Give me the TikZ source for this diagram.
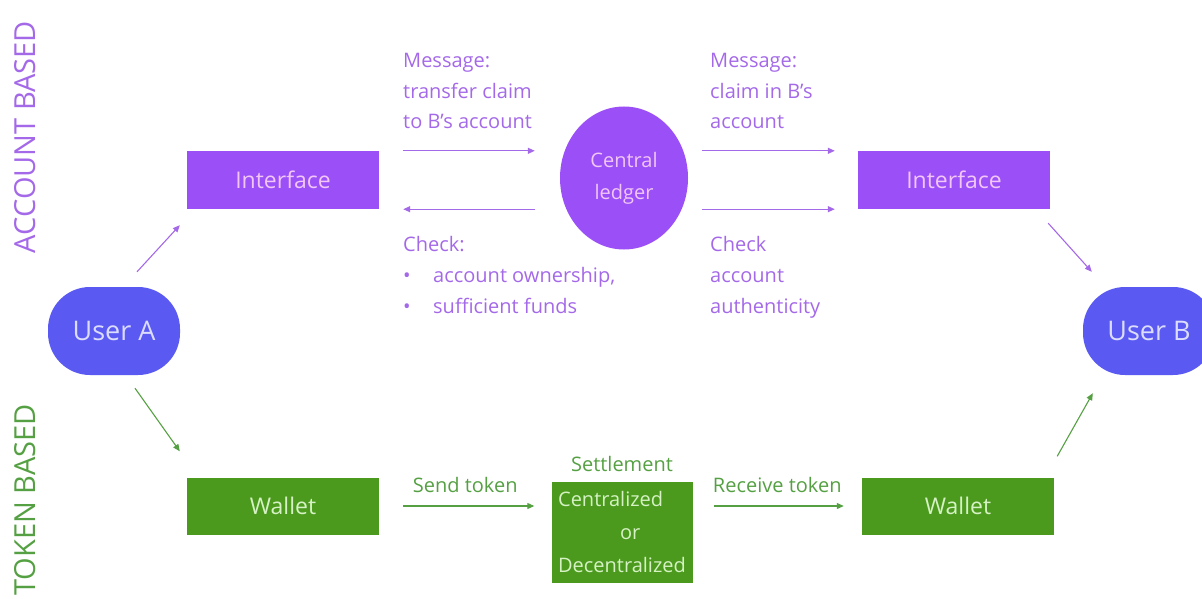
\documentclass[tikz,border=0pt]{standalone}
\usepackage{fontspec}
\setmainfont{Open Sans}
\usetikzlibrary{arrows.meta,positioning,shapes.geometric}

\definecolor{acctpurple}{HTML}{9B4FF7}
\definecolor{userblue}{HTML}{5A5AF2}
\definecolor{tokgreen}{HTML}{4B9A1E}
\definecolor{lblpurple}{HTML}{A469E8}
\definecolor{lblgreen}{HTML}{55A043}
\definecolor{pinktext}{HTML}{F2C6F7}
\definecolor{lighttext}{HTML}{DCDCFF}
\definecolor{mintext}{HTML}{D6F2C4}

\begin{document}
\begin{tikzpicture}[
  x=1pt, y=-1pt,
  font=\fontsize{20}{31}\selectfont,
  ifbox/.style={rectangle, fill=acctpurple, text=pinktext, minimum width=192pt,
                minimum height=58pt, font=\fontsize{23}{28}\selectfont},
  user/.style={rectangle, rounded corners=42pt, fill=userblue, text=lighttext,
               minimum width=132pt, minimum height=88pt, font=\fontsize{27}{32}\selectfont},
  wallet/.style={rectangle, fill=tokgreen, text=mintext, minimum width=192pt,
                 minimum height=57pt, font=\fontsize{23}{28}\selectfont},
  side/.style={rotate=90, inner sep=0pt, font=\fontsize{29}{34}\selectfont},
  note/.style={anchor=base west, align=left, inner sep=0pt, text=lblpurple},
  arrP/.style={-{Triangle[length=7pt,width=6pt]}, line width=1.1pt, draw=lblpurple},
  arrG/.style={-{Triangle[length=7pt,width=6pt]}, line width=1.1pt, draw=lblgreen}
]
  \useasboundingbox (0,0) rectangle (1202,599);

  % side titles
  \node[side, text=lblpurple] (acct) at (25,137) {ACCOUNT BASED};
  \node[side, text=lblgreen] (tok) at (25,500) {TOKEN BASED};

  % users
  \node[user] (userA) at (114,331) {User A};
  \node[user] (userB) at (1149,331) {User B};

  % account based row
  \node[ifbox] (ifA) at (283,180) {Interface};
  \node[ifbox] (ifB) at (954,180) {Interface};
  \node[ellipse, fill=acctpurple, text=pinktext, minimum width=128pt, minimum height=143pt,
        inner sep=0pt, align=center, font=\fontsize{20}{32}\selectfont] (ledger) at (624,178)
        {Central\\ledger};

  % notes (base = last line)
  \node[note] (msgA) at (403,129) {Message:\\transfer claim\\to B’s account};
  \node[note] (msgB) at (710,129) {Message:\\claim in B’s\\account};
  \node[note] (chkA) at (403,313) {Check:\\\makebox[30pt][l]{\textbullet}account ownership,\\
                                   \makebox[30pt][l]{\textbullet}sufficient funds};
  \node[note] (chkB) at (710,313) {Check\\account\\authenticity};

  % token based row
  \node[wallet] (walA) at (283,506) {Wallet};
  \node[wallet] (walB) at (958,506) {Wallet};
  \node[rectangle, fill=tokgreen, text=mintext, minimum width=141pt, minimum height=101pt,
        inner sep=4pt, align=left, font=\fontsize{20}{33}\selectfont] (settle) at (622,532)
        {Centralized\\\hspace{62pt}or\\Decentralized};
  \node[text=lblgreen, above=6pt of settle] (settlab) {Settlement};

  % connectors
  \draw[arrP] ([xshift=23pt,yshift=15pt]userA.north) -- ([xshift=-7pt,yshift=-16pt]ifA.south west);
  \draw[arrG] ([xshift=21pt,yshift=-13pt]userA.south) -- ([xshift=-7pt,yshift=26pt]walA.north west);
  \draw[arrP] ([xshift=-2pt,yshift=-14pt]ifB.south east) -- ([xshift=9pt,yshift=15pt]userB.north west);
  \draw[arrG] ([xshift=3pt,yshift=21pt]walB.north east) -- ([xshift=10pt,yshift=-18pt]userB.south west);

  \draw[arrP, shorten <=24pt, shorten >=25pt] (ifA.north east) -- (ifA.north east -| ledger.west);
  \draw[arrP, shorten <=25pt, shorten >=24pt] (ifA.south east -| ledger.west) -- (ifA.south east);
  \draw[arrP, shorten <=14pt, shorten >=23pt] (ifB.north west -| ledger.east) -- (ifB.north west);
  \draw[arrP, shorten <=14pt, shorten >=23pt] (ifB.south west -| ledger.east) -- (ifB.south west);

  \draw[arrG, shorten <=24pt, shorten >=17pt] (walA.east) -- node[above=13pt, inner sep=0pt,
        text=lblgreen] (sendlab) {Send token} (walA.east -| settle.west);
  \draw[arrG, shorten <=21pt, shorten >=18pt] (settle.east |- walB.west) -- node[above=13pt,
        inner sep=0pt, text=lblgreen] (recvlab) {Receive token} (walB.west);
\end{tikzpicture}
\end{document}
